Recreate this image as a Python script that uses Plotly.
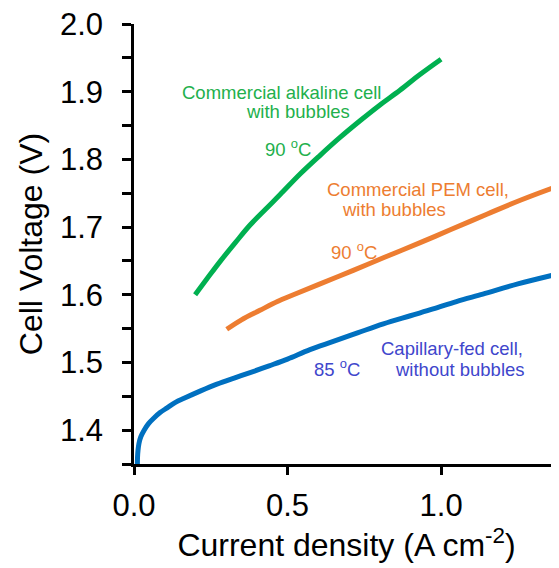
import plotly.graph_objects as go

# ---- data ----
capillary_x = [0.011, 0.0115, 0.013, 0.016, 0.022, 0.033, 0.048, 0.065, 0.085, 0.108, 0.135,
               0.163, 0.217, 0.27, 0.326, 0.378, 0.44, 0.5, 0.573, 0.649, 0.73, 0.812, 0.9,
               0.974, 1.05, 1.136, 1.25, 1.383]
capillary_y = [1.35, 1.36, 1.37, 1.38, 1.39, 1.4, 1.41, 1.418, 1.426, 1.433, 1.441,
               1.447, 1.458, 1.468, 1.477, 1.485, 1.495, 1.505, 1.519, 1.531, 1.544, 1.557, 1.569,
               1.579, 1.59, 1.601, 1.616, 1.631]

alkaline_x = [0.199, 0.24, 0.28, 0.33, 0.378, 0.43, 0.476, 0.54, 0.606, 0.67, 0.736, 0.8,
              0.866, 0.93, 1.0]
alkaline_y = [1.6, 1.625, 1.649, 1.677, 1.703, 1.727, 1.748, 1.778, 1.806, 1.832, 1.857, 1.88,
              1.902, 1.925, 1.948]

pem_x = [0.302, 0.35, 0.41, 0.467, 0.519, 0.6, 0.714, 0.814, 0.932, 1.03, 1.149, 1.26, 1.383]
pem_y = [1.549, 1.563, 1.577, 1.59, 1.6, 1.615, 1.636, 1.655, 1.677, 1.696, 1.719, 1.74, 1.761]

x_ticks = [0.0, 0.5, 1.0]
x_tick_labels = ["0.0", "0.5", "1.0"]
y_ticks = [1.35, 1.4, 1.45, 1.5, 1.55, 1.6, 1.65, 1.7, 1.75, 1.8, 1.85, 1.9, 1.95, 2.0]
y_tick_labels = ["", "1.4", "", "1.5", "", "1.6", "", "1.7", "", "1.8", "", "1.9", "", "2.0"]

GREEN = "#00B050"
GREEN_TXT = "#22B04C"
ORANGE = "#ED7D31"
BLUE = "#0070C0"
BLUE_TXT = "#4046CC"
FONT = "Liberation Sans, Arial, sans-serif"

fig = go.Figure()
fig.add_trace(go.Scatter(x=alkaline_x, y=alkaline_y, mode="lines",
                         line=dict(color=GREEN, width=5, shape="spline", smoothing=1.0),
                         cliponaxis=False))
fig.add_trace(go.Scatter(x=pem_x, y=pem_y, mode="lines",
                         line=dict(color=ORANGE, width=5, shape="spline", smoothing=1.0),
                         cliponaxis=False))
fig.add_trace(go.Scatter(x=capillary_x, y=capillary_y, mode="lines",
                         line=dict(color=BLUE, width=5, shape="spline", smoothing=1.0),
                         cliponaxis=True))

annots = [
    ("Commercial alkaline cell", 0.481, 1.899, GREEN_TXT),
    ("with bubbles", 0.534, 1.871, GREEN_TXT),
    ("90 <sup>o</sup>C", 0.5, 1.8165, GREEN_TXT),
    ("Commercial PEM cell,", 0.925, 1.7555, ORANGE),
    ("with bubbles", 0.847, 1.726, ORANGE),
    ("90 <sup>o</sup>C", 0.717, 1.665, ORANGE),
    ("Capillary-fed cell,", 1.036, 1.52, BLUE_TXT),
    ("without bubbles", 1.062, 1.49, BLUE_TXT),
    ("85 <sup>o</sup>C", 0.66, 1.4925, BLUE_TXT),
]
for text, ax_, ay_, col in annots:
    fig.add_annotation(x=ax_, y=ay_, text=text, showarrow=False, xref="x", yref="y",
                       font=dict(family=FONT, size=18.5, color=col),
                       xanchor="center", yanchor="middle")

# the page body has an 8px default margin, so the figure is sized to fit the window
fig.update_layout(
    template="none",
    width=551, height=560,
    margin=dict(l=126, r=0, t=16, b=104, pad=0),
    paper_bgcolor="white", plot_bgcolor="white",
    showlegend=False,
    font=dict(family=FONT, color="black"),
)
fig.update_xaxes(
    automargin=False,
    range=[0, 1.384], tickvals=x_ticks, ticktext=x_tick_labels,
    showgrid=False, zeroline=False, showline=True, linecolor="black", linewidth=2.5,
    ticks="outside", ticklen=8, tickwidth=2.5, tickcolor="black",
    tickfont=dict(family=FONT, size=31, color="black"), ticklabelstandoff=4,
    ticklabeloverflow="allow",
    title=dict(text="Current density (A cm<sup>-2</sup>)",
               font=dict(family=FONT, size=32, color="black"), standoff=5),
)
fig.update_yaxes(
    automargin=False,
    range=[1.35, 2.0], tickvals=y_ticks, ticktext=y_tick_labels,
    showgrid=False, zeroline=False, showline=True, linecolor="black", linewidth=2.5,
    ticks="outside", ticklen=9, tickwidth=2.5, tickcolor="black",
    tickfont=dict(family=FONT, size=31, color="black"), ticklabelstandoff=13,
    ticklabeloverflow="allow",
    title=dict(text="Cell Voltage (V)",
               font=dict(family=FONT, size=32, color="black"), standoff=8),
)

fig.write_html("out.html")
